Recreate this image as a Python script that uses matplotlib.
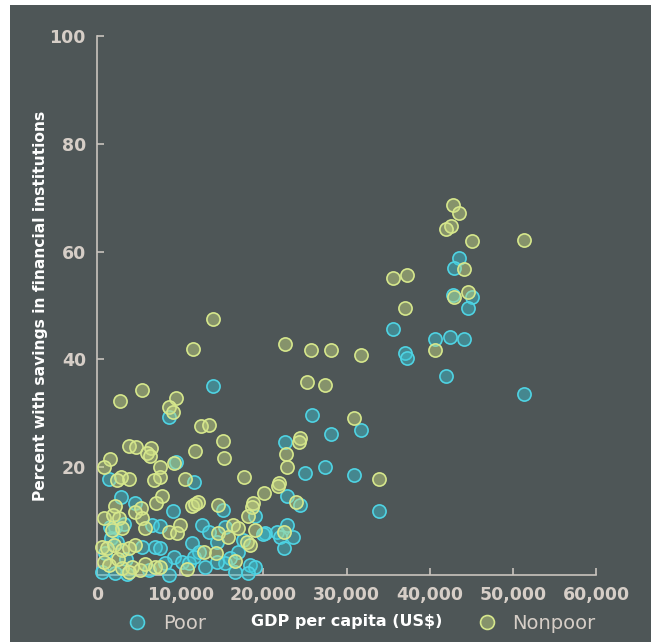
import matplotlib
matplotlib.use("Agg")
import matplotlib.pyplot as plt
from matplotlib.patches import Rectangle
from matplotlib.lines import Line2D
from matplotlib.ticker import FuncFormatter

# GDP per capita (US$) and percent with savings
poor_gdp = [43500, 42900, 42800, 45070, 44600, 40600, 42450, 44100, 37000, 37260,
            41950, 51300, 35600,
            13950, 8650, 25840, 31730, 28130, 22600, 25000, 27400, 30900, 24450,
            33900, 9500, 1440, 11660, 22900,
            2880, 4570, 9140, 2160, 6610, 7570, 11420, 12260, 12620, 5410, 6970,
            7570, 9260, 10220, 11060, 8170, 600, 2160, 8650, 6250, 11660,
            15150, 18990, 15390, 20190, 22840, 21640, 22000, 23560, 22480, 13460,
            14420, 17550, 16950, 15990, 15390, 14420, 18390, 18990, 16590, 12980,
            18150, 19950,
            1000, 3500, 1700, 2400, 3300, 3600, 1560]
poor_pct = [58.8, 57.0, 52.0, 51.6, 49.5, 43.8, 44.2, 43.8, 41.2, 40.3,
            36.9, 33.6, 45.6,
            35.1, 29.3, 29.7, 26.9, 26.2, 24.7, 18.9, 20.0, 18.6, 13.0,
            11.9, 21.0, 17.8, 17.3, 14.7,
            14.5, 13.4, 11.9, 8.9, 9.3, 9.1, 5.9, 4.3, 9.3, 5.2, 5.2,
            5.0, 3.3, 2.4, 2.2, 2.2, 0.6, 0.4, 0.0, 0.9, 3.3,
            12.1, 10.9, 8.9, 7.8, 9.3, 8.0, 7.1, 7.1, 5.0, 8.0,
            6.1, 6.5, 4.3, 3.2, 2.2, 2.4, 1.9, 1.5, 0.6, 1.5,
            0.4, 7.6,
            4.0, 3.0, 6.8, 6.2, 9.5, 0.2, 8.9]

nonpoor_gdp = [42800, 43500, 42550, 41950, 45070, 51300, 44100, 37260, 35600, 44600,
               42900, 37000, 40600, 31700, 30950,
               13950, 11540, 22600, 25700, 28100, 25250, 27400, 5400, 2760, 9500,
               8650, 9140, 12500, 13460, 15150, 3850, 4690, 6490, 6010, 6370,
               1560, 840, 11780, 7570, 9260, 7570, 2880, 3850, 2400, 10580,
               6850, 15270, 24400, 24280, 22720, 22840, 17670, 21880, 21760, 33900,
               23900,
               7810, 7090, 2160, 11420, 11780, 5290, 4570, 840, 1920, 2640,
               5410, 3000, 1800, 5770, 8650, 9980, 9620, 600, 1200, 2040,
               3000, 4570, 3850, 6970, 7570, 10820, 840, 1440, 3000, 4210,
               5170, 3850, 2500, 5800,
               20070, 18750, 18630, 14540, 12140, 18150, 16350, 16950, 18990, 22480,
               14540, 15750, 18030, 18390, 12860, 14300, 16590]
nonpoor_pct = [68.6, 67.2, 64.7, 64.2, 62.0, 62.1, 56.8, 55.7, 55.1, 52.5,
               51.6, 49.5, 41.7, 40.8, 29.2,
               47.5, 41.9, 42.9, 41.7, 41.7, 35.8, 35.3, 34.3, 32.2, 32.8,
               31.2, 30.2, 27.6, 27.8, 24.9, 23.9, 23.7, 23.6, 22.6, 22.1,
               21.5, 20.0, 23.0, 20.0, 20.8, 18.2, 18.2, 17.8, 17.6, 17.8,
               17.6, 21.7, 25.4, 24.7, 22.4, 20.0, 18.2, 17.1, 16.5, 17.8,
               13.5,
               14.7, 13.4, 12.8, 12.8, 13.2, 12.4, 11.7, 10.6, 11.1, 10.6,
               10.6, 8.7, 8.3, 8.7, 8.0, 9.3, 7.8, 5.2, 5.0, 5.6,
               4.6, 5.6, 5.0, 1.5, 1.5, 1.1, 2.4, 1.9, 1.3, 1.5,
               0.9, 0.6, 3.0, 2.0,
               15.2, 13.4, 12.6, 13.0, 13.5, 10.9, 9.3, 8.7, 8.3, 8.0,
               7.8, 7.1, 6.1, 5.6, 4.3, 4.1, 2.6]

x_ticks = [0, 10000, 20000, 30000, 40000, 50000, 60000]
y_ticks = [20, 40, 60, 80, 100]

bg = "#4e5657"
tick_col = "#d6cec7"
spine_col = "#c9c4be"

fig = plt.figure(figsize=(6.54, 6.42), dpi=100, facecolor="white")
fig.patches.append(Rectangle((10 / 654, 0), 641 / 654, 637 / 642,
                             transform=fig.transFigure, facecolor=bg,
                             edgecolor="none", zorder=-10))

ax = fig.add_axes([97 / 654, 67 / 642, 499 / 654, 539 / 642])
ax.set_facecolor("none")

ax.scatter(poor_gdp, poor_pct, s=90, facecolor=(0.23, 0.77, 0.83, 0.45),
           edgecolor="#4fd3e3", linewidth=1.2, zorder=3, clip_on=False)
ax.scatter(nonpoor_gdp, nonpoor_pct, s=90, facecolor=(0.80, 0.87, 0.52, 0.45),
           edgecolor="#d6e78c", linewidth=1.2, zorder=4, clip_on=False)

ax.set_xlim(0, 60000)
ax.set_ylim(0, 100)
ax.set_xticks(x_ticks)
ax.set_yticks(y_ticks)
ax.xaxis.set_major_formatter(FuncFormatter(lambda v, p: f"{int(v):,}"))

for s in ["top", "right"]:
    ax.spines[s].set_visible(False)
for s in ["left", "bottom"]:
    ax.spines[s].set_color(spine_col)
    ax.spines[s].set_linewidth(1.2)
ax.tick_params(direction="in", length=5, width=1.2, color=spine_col,
               labelcolor=tick_col, labelsize=12.5, pad=8)
for lab in ax.get_xticklabels() + ax.get_yticklabels():
    lab.set_fontweight("bold")

ax.set_ylabel("Percent with savings in financial institutions", color="white",
              fontsize=11.2, fontweight="bold", labelpad=1)
ax.set_xlabel("GDP per capita (US$)", color="white", fontsize=11.5,
              fontweight="bold", labelpad=7)

h_poor = Line2D([], [], marker="o", linestyle="none", markersize=10,
                markerfacecolor=(0.23, 0.77, 0.83, 0.45),
                markeredgecolor="#4fd3e3", markeredgewidth=1.2)
h_non = Line2D([], [], marker="o", linestyle="none", markersize=10,
               markerfacecolor=(0.80, 0.87, 0.52, 0.45),
               markeredgecolor="#d6e78c", markeredgewidth=1.2)
leg1 = ax.legend([h_poor], ["Poor"], loc="center", frameon=False,
                 bbox_to_anchor=(0.13, -0.09), fontsize=14,
                 labelcolor=tick_col, handletextpad=0.3)
ax.add_artist(leg1)
ax.legend([h_non], ["Nonpoor"], loc="center", frameon=False,
          bbox_to_anchor=(0.87, -0.09), fontsize=14,
          labelcolor=tick_col, handletextpad=0.3)

fig.savefig("out.png", dpi=100, facecolor="white")
